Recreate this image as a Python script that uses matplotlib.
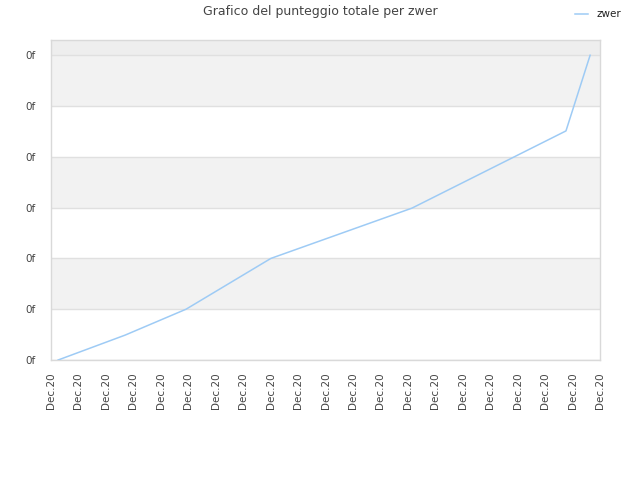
import matplotlib
matplotlib.use("Agg")
import matplotlib.pyplot as plt

# Data (x in tick-index units, y in tick units)
x_vals = [0.26, 2.70, 4.92, 8.01, 13.15, 18.76, 19.64]
y_vals = [0.0, 0.49, 1.0, 2.0, 2.99, 4.51, 6.0]
x_ticks = list(range(21))
x_tick_labels = ["Dec.20"] * 21
y_ticks = [0, 1, 2, 3, 4, 5, 6]
y_tick_labels = ["0f"] * 7
series_name = "zwer"
title = "Grafico del punteggio totale per zwer"

fig = plt.figure(figsize=(6.4, 4.8), dpi=100)
ax = fig.add_axes([51/640, 120/480, 549/640, 320/480])
ax.set_xlim(0, 20)
ax.set_ylim(0, 6.3)

# alternating bands
for i in range(6):
    if i % 2 == 1:
        ax.axhspan(y_ticks[i], y_ticks[i+1], color="#f2f2f2", zorder=0, lw=0)
ax.axhspan(6, 6.3, color="#eeeeee", zorder=0, lw=0)
for yt in y_ticks:
    ax.axhline(yt, color="#e0e0e0", lw=1, zorder=1)

ax.plot(x_vals, y_vals, color="#9ecbf5", lw=1.1, label=series_name, zorder=3)

ax.set_xticks(x_ticks)
ax.set_xticklabels(x_tick_labels, rotation=90, fontsize=7.5, color="#444444")
ax.set_yticks(y_ticks)
ax.set_yticklabels(y_tick_labels, fontsize=7.5, color="#444444")
ax.tick_params(axis="x", length=0, pad=9)
ax.tick_params(axis="y", length=0, pad=11)
for s in ax.spines.values():
    s.set_color("#d9d9d9")
    s.set_linewidth(1)

fig.text(0.5, 1 - 12/480, title, ha="center", va="center", fontsize=9, color="#444444")
fig.legend(loc="upper right", bbox_to_anchor=(0.985, 1.0), frameon=False, fontsize=7.5,
           handlelength=1.2, labelcolor="#222222")

fig.savefig("out.png", dpi=100)
